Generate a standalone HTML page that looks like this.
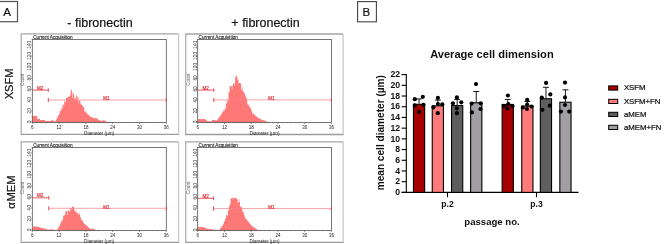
<!DOCTYPE html>
<html><head><meta charset="utf-8"><style>
html,body{margin:0;padding:0;background:#fff;}
body{width:669px;height:244px;overflow:hidden;font-family:"Liberation Sans",sans-serif;}
svg{display:block;}svg{will-change:transform}
</style></head><body>
<svg width="669" height="244" viewBox="0 0 669 244">
<rect width="669" height="244" fill="#fff"/>
<rect x="-2" y="1.5" width="19.5" height="20.2" fill="none" stroke="#555" stroke-width="1.2"/>
<text x="3.3" y="16.3" font-size="11.6" fill="#111" stroke="#111" stroke-width="0.2" font-family="Liberation Sans, sans-serif">A</text>
<text x="100" y="27" text-anchor="middle" font-size="12.5" fill="#111" stroke="#111" stroke-width="0.2" font-family="Liberation Sans, sans-serif">- fibronectin</text>
<text x="265.6" y="27" text-anchor="middle" font-size="12.5" fill="#111" stroke="#111" stroke-width="0.2" font-family="Liberation Sans, sans-serif">+ fibronectin</text>
<text transform="translate(13.2,83.9) rotate(-90)" text-anchor="middle" font-size="11.1" fill="#111" stroke="#111" stroke-width="0.2" font-family="Liberation Sans, sans-serif">XSFM</text>
<text transform="translate(14.5,208.8) rotate(-90)" font-size="11.2" fill="#111" stroke="#111" stroke-width="0.2" font-family="Liberation Sans, sans-serif">α</text>
<text transform="translate(14.5,188.4) rotate(-90)" text-anchor="middle" font-size="11.3" fill="#111" stroke="#111" stroke-width="0.2" font-family="Liberation Sans, sans-serif">MEM</text>
<line x1="20.599999999999998" y1="33.9" x2="178.6" y2="33.9" stroke="#a6a6a6" stroke-width="1.3"/>
<line x1="21.2" y1="33.9" x2="21.2" y2="134.4" stroke="#b0b0b0" stroke-width="1.3"/>
<line x1="20.599999999999998" y1="134.4" x2="179.2" y2="134.4" stroke="#9c9c9c" stroke-width="1.3"/>
<line x1="178.6" y1="33.9" x2="178.6" y2="134.4" stroke="#c8c8c8" stroke-width="1.3"/>
<text x="33.199999999999996" y="38.75" font-size="4.7" fill="#222" stroke="#222" stroke-width="0.12" font-family="Liberation Sans, sans-serif">Current Acquisition</text>
<polygon points="32.30,122.40 32.30,115.93 32.85,115.93 32.85,115.79 33.40,115.79 33.40,116.24 33.95,116.24 33.95,115.87 34.50,115.87 34.50,115.82 35.05,115.82 35.05,116.15 35.60,116.15 35.60,115.81 36.15,115.81 36.15,116.05 36.70,116.05 36.70,115.94 37.25,115.94 37.25,119.18 37.80,119.18 37.80,118.90 38.35,118.90 38.35,118.94 38.90,118.94 38.90,119.12 39.45,119.12 39.45,118.87 40.00,118.87 40.00,120.07 40.55,120.07 40.55,119.93 41.10,119.93 41.10,120.04 41.65,120.04 41.65,120.08 42.20,120.08 42.20,119.94 42.75,119.94 42.75,119.96 43.30,119.96 43.30,120.06 43.85,120.06 43.85,120.10 44.40,120.10 44.40,120.09 44.95,120.09 44.95,120.98 45.50,120.98 45.50,121.01 46.05,121.01 46.05,120.96 46.60,120.96 46.60,121.02 47.15,121.02 47.15,121.03 47.70,121.03 47.70,121.04 48.25,121.04 48.25,120.97 48.80,120.97 48.80,121.00 49.35,121.00 49.35,121.05 49.90,121.05 49.90,121.07 50.45,121.07 50.45,121.01 51.00,121.01 51.00,120.30 51.55,120.30 51.55,120.22 52.10,120.22 52.10,120.21 52.65,120.21 52.65,120.24 53.20,120.24 53.20,120.19 53.75,120.19 53.75,121.50 54.30,121.50 54.30,121.82 54.85,121.82 54.85,121.77 55.40,121.77 55.40,120.70 55.95,120.70 55.95,119.64 56.50,119.64 56.50,118.74 57.05,118.74 57.05,117.72 57.60,117.72 57.60,116.82 58.15,116.82 58.15,115.40 58.70,115.40 58.70,114.74 59.25,114.74 59.25,113.40 59.80,113.40 59.80,110.36 60.35,110.36 60.35,111.43 60.90,111.43 60.90,109.79 61.45,109.79 61.45,108.64 62.00,108.64 62.00,105.28 62.55,105.28 62.55,108.17 63.10,108.17 63.10,104.19 63.65,104.19 63.65,105.44 64.20,105.44 64.20,100.66 64.75,100.66 64.75,102.07 65.30,102.07 65.30,102.29 65.85,102.29 65.85,98.00 66.40,98.00 66.40,98.00 66.95,98.00 66.95,97.89 67.50,97.89 67.50,96.70 68.05,96.70 68.05,96.70 68.60,96.70 68.60,96.70 69.15,96.70 69.15,96.28 69.70,96.28 69.70,96.42 70.25,96.42 70.25,94.27 70.80,94.27 70.80,89.70 71.35,89.70 71.35,89.70 71.90,89.70 71.90,91.97 72.45,91.97 72.45,97.87 73.00,97.87 73.00,93.80 73.55,93.80 73.55,93.80 74.10,93.80 74.10,99.00 74.65,99.00 74.65,98.70 75.20,98.70 75.20,98.28 75.75,98.28 75.75,95.50 76.30,95.50 76.30,95.50 76.85,95.50 76.85,100.15 77.40,100.15 77.40,96.68 77.95,96.68 77.95,97.10 78.50,97.10 78.50,103.53 79.05,103.53 79.05,100.34 79.60,100.34 79.60,100.69 80.15,100.69 80.15,104.11 80.70,104.11 80.70,101.69 81.25,101.69 81.25,104.98 81.80,104.98 81.80,105.04 82.35,105.04 82.35,105.84 82.90,105.84 82.90,107.04 83.45,107.04 83.45,107.19 84.00,107.19 84.00,110.11 84.55,110.11 84.55,112.02 85.10,112.02 85.10,112.20 85.65,112.20 85.65,111.04 86.20,111.04 86.20,113.14 86.75,113.14 86.75,112.95 87.30,112.95 87.30,114.41 87.85,114.41 87.85,114.47 88.40,114.47 88.40,114.89 88.95,114.89 88.95,115.44 89.50,115.44 89.50,116.03 90.05,116.03 90.05,116.63 90.60,116.63 90.60,117.20 91.15,117.20 91.15,117.29 91.70,117.29 91.70,117.33 92.25,117.33 92.25,117.29 92.80,117.29 92.80,117.71 93.35,117.71 93.35,117.77 93.90,117.77 93.90,118.32 94.45,118.32 94.45,118.51 95.00,118.51 95.00,118.37 95.55,118.37 95.55,118.04 96.10,118.04 96.10,118.06 96.65,118.06 96.65,118.51 97.20,118.51 97.20,119.12 97.75,119.12 97.75,119.52 98.30,119.52 98.30,119.85 98.85,119.85 98.85,120.00 99.40,120.00 99.40,120.40 99.95,120.40 99.95,120.50 100.50,120.50 100.50,120.72 101.05,120.72 101.05,120.87 101.60,120.87 101.60,121.02 102.15,121.02 102.15,120.76 102.70,120.76 102.70,120.51 103.25,120.51 103.25,120.36 103.80,120.36 103.80,120.09 104.35,120.09 104.35,120.48 104.90,120.48 104.90,120.85 105.45,120.85 105.45,121.31 106.00,121.31 106.00,121.55 106.55,121.55 106.55,121.63 107.10,121.63 107.10,121.75 107.65,121.75 107.65,121.86 108.20,121.86 108.20,121.93 108.75,121.93 108.75,122.04 109.30,122.04 109.30,122.12 109.85,122.12 109.85,122.40 110.40,122.40 110.00,122.40" fill="#ff7878"/>
<rect x="32.3" y="39.5" width="134.0" height="82.9" fill="none" stroke="#4a4a4a" stroke-width="0.75"/>
<line x1="30.9" y1="122.00" x2="32.3" y2="122.00" stroke="#555" stroke-width="0.6"/>
<line x1="31.499999999999996" y1="116.50" x2="32.3" y2="116.50" stroke="#666" stroke-width="0.5"/>
<text transform="translate(31.4,121.80) rotate(-90)" text-anchor="middle" font-size="4.8" fill="#3a3a3a" font-family="Liberation Sans, sans-serif">0</text>
<line x1="30.9" y1="111.00" x2="32.3" y2="111.00" stroke="#555" stroke-width="0.6"/>
<line x1="31.499999999999996" y1="105.50" x2="32.3" y2="105.50" stroke="#666" stroke-width="0.5"/>
<text transform="translate(31.4,110.80) rotate(-90)" text-anchor="middle" font-size="4.8" fill="#3a3a3a" font-family="Liberation Sans, sans-serif">20</text>
<line x1="30.9" y1="100.00" x2="32.3" y2="100.00" stroke="#555" stroke-width="0.6"/>
<line x1="31.499999999999996" y1="94.50" x2="32.3" y2="94.50" stroke="#666" stroke-width="0.5"/>
<text transform="translate(31.4,99.80) rotate(-90)" text-anchor="middle" font-size="4.8" fill="#3a3a3a" font-family="Liberation Sans, sans-serif">40</text>
<line x1="30.9" y1="89.00" x2="32.3" y2="89.00" stroke="#555" stroke-width="0.6"/>
<line x1="31.499999999999996" y1="83.50" x2="32.3" y2="83.50" stroke="#666" stroke-width="0.5"/>
<text transform="translate(31.4,88.80) rotate(-90)" text-anchor="middle" font-size="4.8" fill="#3a3a3a" font-family="Liberation Sans, sans-serif">60</text>
<line x1="30.9" y1="78.00" x2="32.3" y2="78.00" stroke="#555" stroke-width="0.6"/>
<line x1="31.499999999999996" y1="72.50" x2="32.3" y2="72.50" stroke="#666" stroke-width="0.5"/>
<text transform="translate(31.4,77.80) rotate(-90)" text-anchor="middle" font-size="4.8" fill="#3a3a3a" font-family="Liberation Sans, sans-serif">80</text>
<line x1="30.9" y1="67.00" x2="32.3" y2="67.00" stroke="#555" stroke-width="0.6"/>
<line x1="31.499999999999996" y1="61.50" x2="32.3" y2="61.50" stroke="#666" stroke-width="0.5"/>
<text transform="translate(31.4,66.80) rotate(-90)" text-anchor="middle" font-size="4.8" fill="#3a3a3a" font-family="Liberation Sans, sans-serif">100</text>
<line x1="30.9" y1="56.00" x2="32.3" y2="56.00" stroke="#555" stroke-width="0.6"/>
<line x1="31.499999999999996" y1="50.50" x2="32.3" y2="50.50" stroke="#666" stroke-width="0.5"/>
<text transform="translate(31.4,55.80) rotate(-90)" text-anchor="middle" font-size="4.8" fill="#3a3a3a" font-family="Liberation Sans, sans-serif">120</text>
<line x1="30.9" y1="45.00" x2="32.3" y2="45.00" stroke="#555" stroke-width="0.6"/>
<line x1="31.499999999999996" y1="39.50" x2="32.3" y2="39.50" stroke="#666" stroke-width="0.5"/>
<text transform="translate(31.4,44.80) rotate(-90)" text-anchor="middle" font-size="4.8" fill="#3a3a3a" font-family="Liberation Sans, sans-serif">140</text>
<text transform="translate(24.4,79.8) rotate(-90)" text-anchor="middle" font-size="4.6" fill="#666" font-family="Liberation Sans, sans-serif">Count</text>
<line x1="32.30" y1="122.4" x2="32.30" y2="124.0" stroke="#444" stroke-width="0.6"/>
<text x="32.30" y="129.1" text-anchor="middle" font-size="4.5" fill="#222" font-family="Liberation Sans, sans-serif">6</text>
<line x1="36.77" y1="122.4" x2="36.77" y2="123.30000000000001" stroke="#777" stroke-width="0.5"/>
<line x1="41.23" y1="122.4" x2="41.23" y2="123.30000000000001" stroke="#777" stroke-width="0.5"/>
<line x1="45.70" y1="122.4" x2="45.70" y2="123.30000000000001" stroke="#777" stroke-width="0.5"/>
<line x1="50.17" y1="122.4" x2="50.17" y2="123.30000000000001" stroke="#777" stroke-width="0.5"/>
<line x1="54.63" y1="122.4" x2="54.63" y2="123.30000000000001" stroke="#777" stroke-width="0.5"/>
<line x1="59.10" y1="122.4" x2="59.10" y2="124.0" stroke="#444" stroke-width="0.6"/>
<text x="59.10" y="129.1" text-anchor="middle" font-size="4.5" fill="#222" font-family="Liberation Sans, sans-serif">12</text>
<line x1="63.57" y1="122.4" x2="63.57" y2="123.30000000000001" stroke="#777" stroke-width="0.5"/>
<line x1="68.03" y1="122.4" x2="68.03" y2="123.30000000000001" stroke="#777" stroke-width="0.5"/>
<line x1="72.50" y1="122.4" x2="72.50" y2="123.30000000000001" stroke="#777" stroke-width="0.5"/>
<line x1="76.97" y1="122.4" x2="76.97" y2="123.30000000000001" stroke="#777" stroke-width="0.5"/>
<line x1="81.43" y1="122.4" x2="81.43" y2="123.30000000000001" stroke="#777" stroke-width="0.5"/>
<line x1="85.90" y1="122.4" x2="85.90" y2="124.0" stroke="#444" stroke-width="0.6"/>
<text x="85.90" y="129.1" text-anchor="middle" font-size="4.5" fill="#222" font-family="Liberation Sans, sans-serif">18</text>
<line x1="90.37" y1="122.4" x2="90.37" y2="123.30000000000001" stroke="#777" stroke-width="0.5"/>
<line x1="94.83" y1="122.4" x2="94.83" y2="123.30000000000001" stroke="#777" stroke-width="0.5"/>
<line x1="99.30" y1="122.4" x2="99.30" y2="123.30000000000001" stroke="#777" stroke-width="0.5"/>
<line x1="103.77" y1="122.4" x2="103.77" y2="123.30000000000001" stroke="#777" stroke-width="0.5"/>
<line x1="108.23" y1="122.4" x2="108.23" y2="123.30000000000001" stroke="#777" stroke-width="0.5"/>
<line x1="112.70" y1="122.4" x2="112.70" y2="124.0" stroke="#444" stroke-width="0.6"/>
<text x="112.70" y="129.1" text-anchor="middle" font-size="4.5" fill="#222" font-family="Liberation Sans, sans-serif">24</text>
<line x1="117.17" y1="122.4" x2="117.17" y2="123.30000000000001" stroke="#777" stroke-width="0.5"/>
<line x1="121.63" y1="122.4" x2="121.63" y2="123.30000000000001" stroke="#777" stroke-width="0.5"/>
<line x1="126.10" y1="122.4" x2="126.10" y2="123.30000000000001" stroke="#777" stroke-width="0.5"/>
<line x1="130.57" y1="122.4" x2="130.57" y2="123.30000000000001" stroke="#777" stroke-width="0.5"/>
<line x1="135.03" y1="122.4" x2="135.03" y2="123.30000000000001" stroke="#777" stroke-width="0.5"/>
<line x1="139.50" y1="122.4" x2="139.50" y2="124.0" stroke="#444" stroke-width="0.6"/>
<text x="139.50" y="129.1" text-anchor="middle" font-size="4.5" fill="#222" font-family="Liberation Sans, sans-serif">30</text>
<line x1="143.97" y1="122.4" x2="143.97" y2="123.30000000000001" stroke="#777" stroke-width="0.5"/>
<line x1="148.43" y1="122.4" x2="148.43" y2="123.30000000000001" stroke="#777" stroke-width="0.5"/>
<line x1="152.90" y1="122.4" x2="152.90" y2="123.30000000000001" stroke="#777" stroke-width="0.5"/>
<line x1="157.37" y1="122.4" x2="157.37" y2="123.30000000000001" stroke="#777" stroke-width="0.5"/>
<line x1="161.83" y1="122.4" x2="161.83" y2="123.30000000000001" stroke="#777" stroke-width="0.5"/>
<line x1="166.30" y1="122.4" x2="166.30" y2="124.0" stroke="#444" stroke-width="0.6"/>
<text x="166.30" y="129.1" text-anchor="middle" font-size="4.5" fill="#222" font-family="Liberation Sans, sans-serif">36</text>
<text x="99.1" y="134.70000000000002" text-anchor="middle" font-size="4.7" fill="#222" font-family="Liberation Sans, sans-serif">Diameter (µm)</text>
<line x1="32.3" y1="90.1" x2="48.3" y2="90.1" stroke="#e63a48" stroke-width="0.85"/>
<line x1="48.3" y1="88.3" x2="48.3" y2="91.89999999999999" stroke="#e63a48" stroke-width="0.9"/>
<text x="40.199999999999996" y="89.69999999999999" text-anchor="middle" font-size="4.5" fill="#e0202a" stroke="#e0202a" stroke-width="0.15" font-family="Liberation Sans, sans-serif">M2</text>
<line x1="48.3" y1="100.0" x2="166.3" y2="100.0" stroke="#f4848e" stroke-width="0.75"/>
<line x1="48.3" y1="97.8" x2="48.3" y2="102.2" stroke="#e63a48" stroke-width="0.9"/>
<line x1="166.3" y1="97.8" x2="166.3" y2="102.2" stroke="#e63a48" stroke-width="0.9"/>
<text x="106.5" y="100.2" text-anchor="middle" font-size="4.5" fill="#e0202a" stroke="#e0202a" stroke-width="0.15" font-family="Liberation Sans, sans-serif">M1</text>
<line x1="185.1" y1="34.0" x2="343.1" y2="34.0" stroke="#a6a6a6" stroke-width="1.3"/>
<line x1="185.7" y1="34.0" x2="185.7" y2="134.5" stroke="#b0b0b0" stroke-width="1.3"/>
<line x1="185.1" y1="134.5" x2="343.70000000000005" y2="134.5" stroke="#9c9c9c" stroke-width="1.3"/>
<line x1="343.1" y1="34.0" x2="343.1" y2="134.5" stroke="#c8c8c8" stroke-width="1.3"/>
<text x="198.6" y="38.65" font-size="4.7" fill="#222" stroke="#222" stroke-width="0.12" font-family="Liberation Sans, sans-serif">Current Acquisition</text>
<polygon points="197.70,122.50 197.70,119.03 198.25,119.03 198.25,119.19 198.80,119.19 198.80,118.89 199.35,118.89 199.35,119.12 199.90,119.12 199.90,119.18 200.45,119.18 200.45,118.95 201.00,118.95 201.00,119.20 201.55,119.20 201.55,119.05 202.10,119.05 202.10,119.15 202.65,119.15 202.65,119.19 203.20,119.19 203.20,118.91 203.75,118.91 203.75,118.99 204.30,118.99 204.30,118.93 204.85,118.93 204.85,119.09 205.40,119.09 205.40,119.79 205.95,119.79 205.95,120.23 206.50,120.23 206.50,120.77 207.05,120.77 207.05,120.98 207.60,120.98 207.60,121.09 208.15,121.09 208.15,121.15 208.70,121.15 208.70,121.22 209.25,121.22 209.25,121.21 209.80,121.21 209.80,121.27 210.35,121.27 210.35,121.32 210.90,121.32 210.90,121.43 211.45,121.43 211.45,121.43 212.00,121.43 212.00,119.92 212.55,119.92 212.55,120.07 213.10,120.07 213.10,120.11 213.65,120.11 213.65,119.99 214.20,119.99 214.20,120.10 214.75,120.10 214.75,120.06 215.30,120.06 215.30,120.55 215.85,120.55 215.85,120.87 216.40,120.87 216.40,120.43 216.95,120.43 216.95,119.76 217.50,119.76 217.50,119.31 218.05,119.31 218.05,118.53 218.60,118.53 218.60,117.82 219.15,117.82 219.15,116.83 219.70,116.83 219.70,116.51 220.25,116.51 220.25,115.18 220.80,115.18 220.80,114.75 221.35,114.75 221.35,113.60 221.90,113.60 221.90,112.90 222.45,112.90 222.45,111.39 223.00,111.39 223.00,111.50 223.55,111.50 223.55,109.50 224.10,109.50 224.10,111.03 224.65,111.03 224.65,108.47 225.20,108.47 225.20,108.70 225.75,108.70 225.75,103.25 226.30,103.25 226.30,103.98 226.85,103.98 226.85,99.43 227.40,99.43 227.40,101.65 227.95,101.65 227.95,99.64 228.50,99.64 228.50,91.82 229.05,91.82 229.05,92.50 229.60,92.50 229.60,86.36 230.15,86.36 230.15,86.00 230.70,86.00 230.70,86.00 231.25,86.00 231.25,86.00 231.80,86.00 231.80,89.47 232.35,89.47 232.35,85.74 232.90,85.74 232.90,83.50 233.45,83.50 233.45,83.50 234.00,83.50 234.00,85.79 234.55,85.79 234.55,83.09 235.10,83.09 235.10,77.80 235.65,77.80 235.65,75.50 236.20,75.50 236.20,75.50 236.75,75.50 236.75,76.74 237.30,76.74 237.30,79.99 237.85,79.99 237.85,78.43 238.40,78.43 238.40,83.43 238.95,83.43 238.95,82.66 239.50,82.66 239.50,83.06 240.05,83.06 240.05,83.45 240.60,83.45 240.60,83.33 241.15,83.33 241.15,89.80 241.70,89.80 241.70,90.08 242.25,90.08 242.25,87.42 242.80,87.42 242.80,91.60 243.35,91.60 243.35,91.42 243.90,91.42 243.90,93.82 244.45,93.82 244.45,92.73 245.00,92.73 245.00,95.57 245.55,95.57 245.55,96.55 246.10,96.55 246.10,98.82 246.65,98.82 246.65,98.27 247.20,98.27 247.20,103.56 247.75,103.56 247.75,105.27 248.30,105.27 248.30,104.62 248.85,104.62 248.85,105.78 249.40,105.78 249.40,106.88 249.95,106.88 249.95,107.61 250.50,107.61 250.50,108.47 251.05,108.47 251.05,110.28 251.60,110.28 251.60,111.03 252.15,111.03 252.15,114.01 252.70,114.01 252.70,112.88 253.25,112.88 253.25,113.52 253.80,113.52 253.80,114.17 254.35,114.17 254.35,115.16 254.90,115.16 254.90,115.37 255.45,115.37 255.45,115.98 256.00,115.98 256.00,116.31 256.55,116.31 256.55,116.73 257.10,116.73 257.10,117.51 257.65,117.51 257.65,117.50 258.20,117.50 258.20,117.84 258.75,117.84 258.75,118.38 259.30,118.38 259.30,118.44 259.85,118.44 259.85,118.82 260.40,118.82 260.40,119.10 260.95,119.10 260.95,119.47 261.50,119.47 261.50,119.76 262.05,119.76 262.05,120.02 262.60,120.02 262.60,119.93 263.15,119.93 263.15,120.23 263.70,120.23 263.70,120.26 264.25,120.26 264.25,120.55 264.80,120.55 264.80,120.83 265.35,120.83 265.35,121.15 265.90,121.15 265.90,121.35 266.45,121.35 266.45,121.56 267.00,121.56 267.00,121.75 267.55,121.75 267.55,121.92 268.10,121.92 268.10,122.05 268.65,122.05 268.65,122.17 269.20,122.17 269.20,122.24 269.75,122.24 269.75,122.34 270.30,122.34 270.30,122.43 270.85,122.43 270.85,122.50 271.40,122.50 271.00,122.50" fill="#ff7878"/>
<rect x="197.7" y="39.4" width="133.7" height="83.1" fill="none" stroke="#4a4a4a" stroke-width="0.75"/>
<line x1="196.29999999999998" y1="122.10" x2="197.7" y2="122.10" stroke="#555" stroke-width="0.6"/>
<line x1="196.89999999999998" y1="116.60" x2="197.7" y2="116.60" stroke="#666" stroke-width="0.5"/>
<text transform="translate(196.79999999999998,121.90) rotate(-90)" text-anchor="middle" font-size="4.8" fill="#3a3a3a" font-family="Liberation Sans, sans-serif">0</text>
<line x1="196.29999999999998" y1="111.10" x2="197.7" y2="111.10" stroke="#555" stroke-width="0.6"/>
<line x1="196.89999999999998" y1="105.60" x2="197.7" y2="105.60" stroke="#666" stroke-width="0.5"/>
<text transform="translate(196.79999999999998,110.90) rotate(-90)" text-anchor="middle" font-size="4.8" fill="#3a3a3a" font-family="Liberation Sans, sans-serif">20</text>
<line x1="196.29999999999998" y1="100.10" x2="197.7" y2="100.10" stroke="#555" stroke-width="0.6"/>
<line x1="196.89999999999998" y1="94.60" x2="197.7" y2="94.60" stroke="#666" stroke-width="0.5"/>
<text transform="translate(196.79999999999998,99.90) rotate(-90)" text-anchor="middle" font-size="4.8" fill="#3a3a3a" font-family="Liberation Sans, sans-serif">40</text>
<line x1="196.29999999999998" y1="89.10" x2="197.7" y2="89.10" stroke="#555" stroke-width="0.6"/>
<line x1="196.89999999999998" y1="83.60" x2="197.7" y2="83.60" stroke="#666" stroke-width="0.5"/>
<text transform="translate(196.79999999999998,88.90) rotate(-90)" text-anchor="middle" font-size="4.8" fill="#3a3a3a" font-family="Liberation Sans, sans-serif">60</text>
<line x1="196.29999999999998" y1="78.10" x2="197.7" y2="78.10" stroke="#555" stroke-width="0.6"/>
<line x1="196.89999999999998" y1="72.60" x2="197.7" y2="72.60" stroke="#666" stroke-width="0.5"/>
<text transform="translate(196.79999999999998,77.90) rotate(-90)" text-anchor="middle" font-size="4.8" fill="#3a3a3a" font-family="Liberation Sans, sans-serif">80</text>
<line x1="196.29999999999998" y1="67.10" x2="197.7" y2="67.10" stroke="#555" stroke-width="0.6"/>
<line x1="196.89999999999998" y1="61.60" x2="197.7" y2="61.60" stroke="#666" stroke-width="0.5"/>
<text transform="translate(196.79999999999998,66.90) rotate(-90)" text-anchor="middle" font-size="4.8" fill="#3a3a3a" font-family="Liberation Sans, sans-serif">100</text>
<line x1="196.29999999999998" y1="56.10" x2="197.7" y2="56.10" stroke="#555" stroke-width="0.6"/>
<line x1="196.89999999999998" y1="50.60" x2="197.7" y2="50.60" stroke="#666" stroke-width="0.5"/>
<text transform="translate(196.79999999999998,55.90) rotate(-90)" text-anchor="middle" font-size="4.8" fill="#3a3a3a" font-family="Liberation Sans, sans-serif">120</text>
<line x1="196.29999999999998" y1="45.10" x2="197.7" y2="45.10" stroke="#555" stroke-width="0.6"/>
<line x1="196.89999999999998" y1="39.60" x2="197.7" y2="39.60" stroke="#666" stroke-width="0.5"/>
<text transform="translate(196.79999999999998,44.90) rotate(-90)" text-anchor="middle" font-size="4.8" fill="#3a3a3a" font-family="Liberation Sans, sans-serif">140</text>
<text transform="translate(189.79999999999998,79.69999999999999) rotate(-90)" text-anchor="middle" font-size="4.6" fill="#666" font-family="Liberation Sans, sans-serif">Count</text>
<line x1="197.70" y1="122.5" x2="197.70" y2="124.1" stroke="#444" stroke-width="0.6"/>
<text x="197.70" y="129.2" text-anchor="middle" font-size="4.5" fill="#222" font-family="Liberation Sans, sans-serif">6</text>
<line x1="202.16" y1="122.5" x2="202.16" y2="123.4" stroke="#777" stroke-width="0.5"/>
<line x1="206.61" y1="122.5" x2="206.61" y2="123.4" stroke="#777" stroke-width="0.5"/>
<line x1="211.07" y1="122.5" x2="211.07" y2="123.4" stroke="#777" stroke-width="0.5"/>
<line x1="215.53" y1="122.5" x2="215.53" y2="123.4" stroke="#777" stroke-width="0.5"/>
<line x1="219.98" y1="122.5" x2="219.98" y2="123.4" stroke="#777" stroke-width="0.5"/>
<line x1="224.44" y1="122.5" x2="224.44" y2="124.1" stroke="#444" stroke-width="0.6"/>
<text x="224.44" y="129.2" text-anchor="middle" font-size="4.5" fill="#222" font-family="Liberation Sans, sans-serif">12</text>
<line x1="228.90" y1="122.5" x2="228.90" y2="123.4" stroke="#777" stroke-width="0.5"/>
<line x1="233.35" y1="122.5" x2="233.35" y2="123.4" stroke="#777" stroke-width="0.5"/>
<line x1="237.81" y1="122.5" x2="237.81" y2="123.4" stroke="#777" stroke-width="0.5"/>
<line x1="242.27" y1="122.5" x2="242.27" y2="123.4" stroke="#777" stroke-width="0.5"/>
<line x1="246.72" y1="122.5" x2="246.72" y2="123.4" stroke="#777" stroke-width="0.5"/>
<line x1="251.18" y1="122.5" x2="251.18" y2="124.1" stroke="#444" stroke-width="0.6"/>
<text x="251.18" y="129.2" text-anchor="middle" font-size="4.5" fill="#222" font-family="Liberation Sans, sans-serif">18</text>
<line x1="255.64" y1="122.5" x2="255.64" y2="123.4" stroke="#777" stroke-width="0.5"/>
<line x1="260.09" y1="122.5" x2="260.09" y2="123.4" stroke="#777" stroke-width="0.5"/>
<line x1="264.55" y1="122.5" x2="264.55" y2="123.4" stroke="#777" stroke-width="0.5"/>
<line x1="269.01" y1="122.5" x2="269.01" y2="123.4" stroke="#777" stroke-width="0.5"/>
<line x1="273.46" y1="122.5" x2="273.46" y2="123.4" stroke="#777" stroke-width="0.5"/>
<line x1="277.92" y1="122.5" x2="277.92" y2="124.1" stroke="#444" stroke-width="0.6"/>
<text x="277.92" y="129.2" text-anchor="middle" font-size="4.5" fill="#222" font-family="Liberation Sans, sans-serif">24</text>
<line x1="282.38" y1="122.5" x2="282.38" y2="123.4" stroke="#777" stroke-width="0.5"/>
<line x1="286.83" y1="122.5" x2="286.83" y2="123.4" stroke="#777" stroke-width="0.5"/>
<line x1="291.29" y1="122.5" x2="291.29" y2="123.4" stroke="#777" stroke-width="0.5"/>
<line x1="295.75" y1="122.5" x2="295.75" y2="123.4" stroke="#777" stroke-width="0.5"/>
<line x1="300.20" y1="122.5" x2="300.20" y2="123.4" stroke="#777" stroke-width="0.5"/>
<line x1="304.66" y1="122.5" x2="304.66" y2="124.1" stroke="#444" stroke-width="0.6"/>
<text x="304.66" y="129.2" text-anchor="middle" font-size="4.5" fill="#222" font-family="Liberation Sans, sans-serif">30</text>
<line x1="309.12" y1="122.5" x2="309.12" y2="123.4" stroke="#777" stroke-width="0.5"/>
<line x1="313.57" y1="122.5" x2="313.57" y2="123.4" stroke="#777" stroke-width="0.5"/>
<line x1="318.03" y1="122.5" x2="318.03" y2="123.4" stroke="#777" stroke-width="0.5"/>
<line x1="322.49" y1="122.5" x2="322.49" y2="123.4" stroke="#777" stroke-width="0.5"/>
<line x1="326.94" y1="122.5" x2="326.94" y2="123.4" stroke="#777" stroke-width="0.5"/>
<line x1="331.40" y1="122.5" x2="331.40" y2="124.1" stroke="#444" stroke-width="0.6"/>
<text x="331.40" y="129.2" text-anchor="middle" font-size="4.5" fill="#222" font-family="Liberation Sans, sans-serif">36</text>
<text x="264.5" y="134.8" text-anchor="middle" font-size="4.7" fill="#222" font-family="Liberation Sans, sans-serif">Diameter (µm)</text>
<line x1="197.7" y1="90.1" x2="213.8" y2="90.1" stroke="#e63a48" stroke-width="0.85"/>
<line x1="213.8" y1="88.3" x2="213.8" y2="91.89999999999999" stroke="#e63a48" stroke-width="0.9"/>
<text x="205.6" y="89.69999999999999" text-anchor="middle" font-size="4.5" fill="#e0202a" stroke="#e0202a" stroke-width="0.15" font-family="Liberation Sans, sans-serif">M2</text>
<line x1="213.8" y1="99.9" x2="331.4" y2="99.9" stroke="#f4848e" stroke-width="0.75"/>
<line x1="213.8" y1="97.7" x2="213.8" y2="102.10000000000001" stroke="#e63a48" stroke-width="0.9"/>
<line x1="331.4" y1="97.7" x2="331.4" y2="102.10000000000001" stroke="#e63a48" stroke-width="0.9"/>
<text x="271.5" y="100.10000000000001" text-anchor="middle" font-size="4.5" fill="#e0202a" stroke="#e0202a" stroke-width="0.15" font-family="Liberation Sans, sans-serif">M1</text>
<line x1="20.599999999999998" y1="141.8" x2="178.6" y2="141.8" stroke="#a6a6a6" stroke-width="1.3"/>
<line x1="21.2" y1="141.8" x2="21.2" y2="242.3" stroke="#b0b0b0" stroke-width="1.3"/>
<line x1="20.599999999999998" y1="242.3" x2="179.2" y2="242.3" stroke="#9c9c9c" stroke-width="1.3"/>
<line x1="178.6" y1="141.8" x2="178.6" y2="242.3" stroke="#c8c8c8" stroke-width="1.3"/>
<text x="33.199999999999996" y="146.85" font-size="4.7" fill="#222" stroke="#222" stroke-width="0.12" font-family="Liberation Sans, sans-serif">Current Acquisition</text>
<polygon points="32.90,230.40 32.90,226.56 33.45,226.56 33.45,226.48 34.00,226.48 34.00,226.54 34.55,226.54 34.55,226.35 35.10,226.35 35.10,226.44 35.65,226.44 35.65,226.57 36.20,226.57 36.20,226.39 36.75,226.39 36.75,226.39 37.30,226.39 37.30,226.64 37.85,226.64 37.85,226.82 38.40,226.82 38.40,226.99 38.95,226.99 38.95,227.14 39.50,227.14 39.50,227.37 40.05,227.37 40.05,227.44 40.60,227.44 40.60,227.68 41.15,227.68 41.15,227.90 41.70,227.90 41.70,227.95 42.25,227.95 42.25,228.16 42.80,228.16 42.80,228.20 43.35,228.20 43.35,228.29 43.90,228.29 43.90,228.45 44.45,228.45 44.45,228.42 45.00,228.42 45.00,228.61 45.55,228.61 45.55,228.89 46.10,228.89 46.10,229.25 46.65,229.25 46.65,229.50 47.20,229.50 47.20,229.50 47.75,229.50 47.75,229.50 48.30,229.50 48.30,229.42 48.85,229.42 48.85,229.38 49.40,229.38 49.40,229.40 49.95,229.40 49.95,229.40 50.50,229.40 50.50,229.33 51.05,229.33 51.05,229.29 51.60,229.29 51.60,229.28 52.15,229.28 52.15,229.40 52.70,229.40 52.70,229.49 53.25,229.49 53.25,229.65 53.80,229.65 53.80,229.79 54.35,229.79 54.35,229.90 54.90,229.90 54.90,230.02 55.45,230.02 55.45,230.14 56.00,230.14 56.00,230.26 56.55,230.26 56.55,230.38 57.10,230.38 57.10,229.61 57.65,229.61 57.65,228.60 58.20,228.60 58.20,227.54 58.75,227.54 58.75,226.78 59.30,226.78 59.30,225.86 59.85,225.86 59.85,224.39 60.40,224.39 60.40,223.05 60.95,223.05 60.95,222.21 61.50,222.21 61.50,220.36 62.05,220.36 62.05,220.76 62.60,220.76 62.60,219.35 63.15,219.35 63.15,215.67 63.70,215.67 63.70,215.21 64.25,215.21 64.25,215.27 64.80,215.27 64.80,214.89 65.35,214.89 65.35,210.90 65.90,210.90 65.90,211.20 66.45,211.20 66.45,211.20 67.00,211.20 67.00,214.90 67.55,214.90 67.55,210.81 68.10,210.81 68.10,209.78 68.65,209.78 68.65,210.86 69.20,210.86 69.20,211.75 69.75,211.75 69.75,211.66 70.30,211.66 70.30,208.00 70.85,208.00 70.85,208.00 71.40,208.00 71.40,209.26 71.95,209.26 71.95,206.33 72.50,206.33 72.50,206.80 73.05,206.80 73.05,206.80 73.60,206.80 73.60,207.28 74.15,207.28 74.15,210.34 74.70,210.34 74.70,211.44 75.25,211.44 75.25,211.61 75.80,211.61 75.80,210.55 76.35,210.55 76.35,212.60 76.90,212.60 76.90,214.02 77.45,214.02 77.45,212.71 78.00,212.71 78.00,214.70 78.55,214.70 78.55,212.61 79.10,212.61 79.10,213.50 79.65,213.50 79.65,215.10 80.20,215.10 80.20,217.03 80.75,217.03 80.75,218.74 81.30,218.74 81.30,220.23 81.85,220.23 81.85,219.92 82.40,219.92 82.40,221.04 82.95,221.04 82.95,222.37 83.50,222.37 83.50,222.80 84.05,222.80 84.05,223.86 84.60,223.86 84.60,224.10 85.15,224.10 85.15,224.50 85.70,224.50 85.70,225.05 86.25,225.05 86.25,225.66 86.80,225.66 86.80,225.65 87.35,225.65 87.35,226.52 87.90,226.52 87.90,227.15 88.45,227.15 88.45,227.56 89.00,227.56 89.00,228.14 89.55,228.14 89.55,228.49 90.10,228.49 90.10,228.76 90.65,228.76 90.65,229.11 91.20,229.11 91.20,229.09 91.75,229.09 91.75,228.90 92.30,228.90 92.30,228.59 92.85,228.59 92.85,228.41 93.40,228.41 93.40,228.38 93.95,228.38 93.95,228.97 94.50,228.97 94.50,229.60 95.05,229.60 95.05,229.85 95.60,229.85 95.60,229.89 96.15,229.89 96.15,229.98 96.70,229.98 96.70,230.04 97.25,230.04 97.25,230.09 97.80,230.09 97.80,230.17 98.35,230.17 98.35,230.24 98.90,230.24 98.90,230.30 99.45,230.30 99.45,230.37 100.00,230.37 100.00,230.40 100.55,230.40 100.00,230.40" fill="#ff7878"/>
<rect x="32.3" y="147.6" width="134.0" height="82.80000000000001" fill="none" stroke="#4a4a4a" stroke-width="0.75"/>
<line x1="30.9" y1="230.00" x2="32.3" y2="230.00" stroke="#555" stroke-width="0.6"/>
<line x1="31.499999999999996" y1="224.50" x2="32.3" y2="224.50" stroke="#666" stroke-width="0.5"/>
<text transform="translate(31.4,229.80) rotate(-90)" text-anchor="middle" font-size="4.8" fill="#3a3a3a" font-family="Liberation Sans, sans-serif">0</text>
<line x1="30.9" y1="219.00" x2="32.3" y2="219.00" stroke="#555" stroke-width="0.6"/>
<line x1="31.499999999999996" y1="213.50" x2="32.3" y2="213.50" stroke="#666" stroke-width="0.5"/>
<text transform="translate(31.4,218.80) rotate(-90)" text-anchor="middle" font-size="4.8" fill="#3a3a3a" font-family="Liberation Sans, sans-serif">20</text>
<line x1="30.9" y1="208.00" x2="32.3" y2="208.00" stroke="#555" stroke-width="0.6"/>
<line x1="31.499999999999996" y1="202.50" x2="32.3" y2="202.50" stroke="#666" stroke-width="0.5"/>
<text transform="translate(31.4,207.80) rotate(-90)" text-anchor="middle" font-size="4.8" fill="#3a3a3a" font-family="Liberation Sans, sans-serif">40</text>
<line x1="30.9" y1="197.00" x2="32.3" y2="197.00" stroke="#555" stroke-width="0.6"/>
<line x1="31.499999999999996" y1="191.50" x2="32.3" y2="191.50" stroke="#666" stroke-width="0.5"/>
<text transform="translate(31.4,196.80) rotate(-90)" text-anchor="middle" font-size="4.8" fill="#3a3a3a" font-family="Liberation Sans, sans-serif">60</text>
<line x1="30.9" y1="186.00" x2="32.3" y2="186.00" stroke="#555" stroke-width="0.6"/>
<line x1="31.499999999999996" y1="180.50" x2="32.3" y2="180.50" stroke="#666" stroke-width="0.5"/>
<text transform="translate(31.4,185.80) rotate(-90)" text-anchor="middle" font-size="4.8" fill="#3a3a3a" font-family="Liberation Sans, sans-serif">80</text>
<line x1="30.9" y1="175.00" x2="32.3" y2="175.00" stroke="#555" stroke-width="0.6"/>
<line x1="31.499999999999996" y1="169.50" x2="32.3" y2="169.50" stroke="#666" stroke-width="0.5"/>
<text transform="translate(31.4,174.80) rotate(-90)" text-anchor="middle" font-size="4.8" fill="#3a3a3a" font-family="Liberation Sans, sans-serif">100</text>
<line x1="30.9" y1="164.00" x2="32.3" y2="164.00" stroke="#555" stroke-width="0.6"/>
<line x1="31.499999999999996" y1="158.50" x2="32.3" y2="158.50" stroke="#666" stroke-width="0.5"/>
<text transform="translate(31.4,163.80) rotate(-90)" text-anchor="middle" font-size="4.8" fill="#3a3a3a" font-family="Liberation Sans, sans-serif">120</text>
<line x1="30.9" y1="153.00" x2="32.3" y2="153.00" stroke="#555" stroke-width="0.6"/>
<line x1="31.499999999999996" y1="147.50" x2="32.3" y2="147.50" stroke="#666" stroke-width="0.5"/>
<text transform="translate(31.4,152.80) rotate(-90)" text-anchor="middle" font-size="4.8" fill="#3a3a3a" font-family="Liberation Sans, sans-serif">140</text>
<text transform="translate(24.4,187.89999999999998) rotate(-90)" text-anchor="middle" font-size="4.6" fill="#666" font-family="Liberation Sans, sans-serif">Count</text>
<line x1="32.30" y1="230.4" x2="32.30" y2="232.0" stroke="#444" stroke-width="0.6"/>
<text x="32.30" y="237.1" text-anchor="middle" font-size="4.5" fill="#222" font-family="Liberation Sans, sans-serif">6</text>
<line x1="36.77" y1="230.4" x2="36.77" y2="231.3" stroke="#777" stroke-width="0.5"/>
<line x1="41.23" y1="230.4" x2="41.23" y2="231.3" stroke="#777" stroke-width="0.5"/>
<line x1="45.70" y1="230.4" x2="45.70" y2="231.3" stroke="#777" stroke-width="0.5"/>
<line x1="50.17" y1="230.4" x2="50.17" y2="231.3" stroke="#777" stroke-width="0.5"/>
<line x1="54.63" y1="230.4" x2="54.63" y2="231.3" stroke="#777" stroke-width="0.5"/>
<line x1="59.10" y1="230.4" x2="59.10" y2="232.0" stroke="#444" stroke-width="0.6"/>
<text x="59.10" y="237.1" text-anchor="middle" font-size="4.5" fill="#222" font-family="Liberation Sans, sans-serif">12</text>
<line x1="63.57" y1="230.4" x2="63.57" y2="231.3" stroke="#777" stroke-width="0.5"/>
<line x1="68.03" y1="230.4" x2="68.03" y2="231.3" stroke="#777" stroke-width="0.5"/>
<line x1="72.50" y1="230.4" x2="72.50" y2="231.3" stroke="#777" stroke-width="0.5"/>
<line x1="76.97" y1="230.4" x2="76.97" y2="231.3" stroke="#777" stroke-width="0.5"/>
<line x1="81.43" y1="230.4" x2="81.43" y2="231.3" stroke="#777" stroke-width="0.5"/>
<line x1="85.90" y1="230.4" x2="85.90" y2="232.0" stroke="#444" stroke-width="0.6"/>
<text x="85.90" y="237.1" text-anchor="middle" font-size="4.5" fill="#222" font-family="Liberation Sans, sans-serif">18</text>
<line x1="90.37" y1="230.4" x2="90.37" y2="231.3" stroke="#777" stroke-width="0.5"/>
<line x1="94.83" y1="230.4" x2="94.83" y2="231.3" stroke="#777" stroke-width="0.5"/>
<line x1="99.30" y1="230.4" x2="99.30" y2="231.3" stroke="#777" stroke-width="0.5"/>
<line x1="103.77" y1="230.4" x2="103.77" y2="231.3" stroke="#777" stroke-width="0.5"/>
<line x1="108.23" y1="230.4" x2="108.23" y2="231.3" stroke="#777" stroke-width="0.5"/>
<line x1="112.70" y1="230.4" x2="112.70" y2="232.0" stroke="#444" stroke-width="0.6"/>
<text x="112.70" y="237.1" text-anchor="middle" font-size="4.5" fill="#222" font-family="Liberation Sans, sans-serif">24</text>
<line x1="117.17" y1="230.4" x2="117.17" y2="231.3" stroke="#777" stroke-width="0.5"/>
<line x1="121.63" y1="230.4" x2="121.63" y2="231.3" stroke="#777" stroke-width="0.5"/>
<line x1="126.10" y1="230.4" x2="126.10" y2="231.3" stroke="#777" stroke-width="0.5"/>
<line x1="130.57" y1="230.4" x2="130.57" y2="231.3" stroke="#777" stroke-width="0.5"/>
<line x1="135.03" y1="230.4" x2="135.03" y2="231.3" stroke="#777" stroke-width="0.5"/>
<line x1="139.50" y1="230.4" x2="139.50" y2="232.0" stroke="#444" stroke-width="0.6"/>
<text x="139.50" y="237.1" text-anchor="middle" font-size="4.5" fill="#222" font-family="Liberation Sans, sans-serif">30</text>
<line x1="143.97" y1="230.4" x2="143.97" y2="231.3" stroke="#777" stroke-width="0.5"/>
<line x1="148.43" y1="230.4" x2="148.43" y2="231.3" stroke="#777" stroke-width="0.5"/>
<line x1="152.90" y1="230.4" x2="152.90" y2="231.3" stroke="#777" stroke-width="0.5"/>
<line x1="157.37" y1="230.4" x2="157.37" y2="231.3" stroke="#777" stroke-width="0.5"/>
<line x1="161.83" y1="230.4" x2="161.83" y2="231.3" stroke="#777" stroke-width="0.5"/>
<line x1="166.30" y1="230.4" x2="166.30" y2="232.0" stroke="#444" stroke-width="0.6"/>
<text x="166.30" y="237.1" text-anchor="middle" font-size="4.5" fill="#222" font-family="Liberation Sans, sans-serif">36</text>
<text x="99.1" y="242.70000000000002" text-anchor="middle" font-size="4.7" fill="#222" font-family="Liberation Sans, sans-serif">Diameter (µm)</text>
<line x1="32.3" y1="197.8" x2="48.8" y2="197.8" stroke="#e63a48" stroke-width="0.85"/>
<line x1="48.8" y1="196.0" x2="48.8" y2="199.60000000000002" stroke="#e63a48" stroke-width="0.9"/>
<text x="40.199999999999996" y="197.4" text-anchor="middle" font-size="4.5" fill="#e0202a" stroke="#e0202a" stroke-width="0.15" font-family="Liberation Sans, sans-serif">M2</text>
<line x1="48.8" y1="208.3" x2="166.3" y2="208.3" stroke="#f4848e" stroke-width="0.75"/>
<line x1="48.8" y1="206.10000000000002" x2="48.8" y2="210.5" stroke="#e63a48" stroke-width="0.9"/>
<line x1="166.3" y1="206.10000000000002" x2="166.3" y2="210.5" stroke="#e63a48" stroke-width="0.9"/>
<text x="106.5" y="208.5" text-anchor="middle" font-size="4.5" fill="#e0202a" stroke="#e0202a" stroke-width="0.15" font-family="Liberation Sans, sans-serif">M1</text>
<line x1="185.1" y1="141.8" x2="343.1" y2="141.8" stroke="#a6a6a6" stroke-width="1.3"/>
<line x1="185.7" y1="141.8" x2="185.7" y2="242.3" stroke="#b0b0b0" stroke-width="1.3"/>
<line x1="185.1" y1="242.3" x2="343.70000000000005" y2="242.3" stroke="#9c9c9c" stroke-width="1.3"/>
<line x1="343.1" y1="141.8" x2="343.1" y2="242.3" stroke="#c8c8c8" stroke-width="1.3"/>
<text x="198.6" y="146.85" font-size="4.7" fill="#222" stroke="#222" stroke-width="0.12" font-family="Liberation Sans, sans-serif">Current Acquisition</text>
<polygon points="197.60,230.40 197.60,227.14 198.15,227.14 198.15,226.96 198.70,226.96 198.70,227.17 199.25,227.17 199.25,227.19 199.80,227.19 199.80,226.92 200.35,226.92 200.35,226.88 200.90,226.88 200.90,227.07 201.45,227.07 201.45,227.14 202.00,227.14 202.00,226.90 202.55,226.90 202.55,226.86 203.10,226.86 203.10,227.18 203.65,227.18 203.65,227.52 204.20,227.52 204.20,227.68 204.75,227.68 204.75,227.98 205.30,227.98 205.30,228.31 205.85,228.31 205.85,228.53 206.40,228.53 206.40,228.55 206.95,228.55 206.95,228.69 207.50,228.69 207.50,228.67 208.05,228.67 208.05,228.77 208.60,228.77 208.60,228.94 209.15,228.94 209.15,228.89 209.70,228.89 209.70,229.03 210.25,229.03 210.25,229.05 210.80,229.05 210.80,229.19 211.35,229.19 211.35,229.25 211.90,229.25 211.90,229.28 212.45,229.28 212.45,229.33 213.00,229.33 213.00,229.46 213.55,229.46 213.55,229.44 214.10,229.44 214.10,229.59 214.65,229.59 214.65,229.67 215.20,229.67 215.20,229.78 215.75,229.78 215.75,229.88 216.30,229.88 216.30,229.98 216.85,229.98 216.85,230.07 217.40,230.07 217.40,230.19 217.95,230.19 217.95,230.30 218.50,230.30 218.50,230.40 219.05,230.40 219.05,229.69 219.60,229.69 219.60,228.98 220.15,228.98 220.15,228.28 220.70,228.28 220.70,227.55 221.25,227.55 221.25,226.87 221.80,226.87 221.80,226.25 222.35,226.25 222.35,225.43 222.90,225.43 222.90,224.40 223.45,224.40 223.45,223.28 224.00,223.28 224.00,221.56 224.55,221.56 224.55,221.02 225.10,221.02 225.10,218.69 225.65,218.69 225.65,217.52 226.20,217.52 226.20,214.83 226.75,214.83 226.75,215.24 227.30,215.24 227.30,215.55 227.85,215.55 227.85,210.95 228.40,210.95 228.40,210.27 228.95,210.27 228.95,206.11 229.50,206.11 229.50,204.93 230.05,204.93 230.05,203.57 230.60,203.57 230.60,198.97 231.15,198.97 231.15,197.90 231.70,197.90 231.70,197.90 232.25,197.90 232.25,197.26 232.80,197.26 232.80,199.27 233.35,199.27 233.35,198.00 233.90,198.00 233.90,198.00 234.45,198.00 234.45,198.00 235.00,198.00 235.00,198.28 235.55,198.28 235.55,197.68 236.10,197.68 236.10,198.50 236.65,198.50 236.65,198.50 237.20,198.50 237.20,199.75 237.75,199.75 237.75,203.08 238.30,203.08 238.30,202.51 238.85,202.51 238.85,199.20 239.40,199.20 239.40,201.84 239.95,201.84 239.95,205.91 240.50,205.91 240.50,207.28 241.05,207.28 241.05,207.45 241.60,207.45 241.60,206.69 242.15,206.69 242.15,211.17 242.70,211.17 242.70,210.76 243.25,210.76 243.25,213.21 243.80,213.21 243.80,213.64 244.35,213.64 244.35,216.50 244.90,216.50 244.90,217.48 245.45,217.48 245.45,218.68 246.00,218.68 246.00,219.22 246.55,219.22 246.55,219.66 247.10,219.66 247.10,220.83 247.65,220.83 247.65,220.73 248.20,220.73 248.20,221.81 248.75,221.81 248.75,222.47 249.30,222.47 249.30,222.88 249.85,222.88 249.85,224.07 250.40,224.07 250.40,224.56 250.95,224.56 250.95,225.32 251.50,225.32 251.50,225.71 252.05,225.71 252.05,226.18 252.60,226.18 252.60,226.73 253.15,226.73 253.15,227.08 253.70,227.08 253.70,227.57 254.25,227.57 254.25,227.78 254.80,227.78 254.80,228.25 255.35,228.25 255.35,228.58 255.90,228.58 255.90,228.99 256.45,228.99 256.45,229.35 257.00,229.35 257.00,229.58 257.55,229.58 257.55,229.69 258.10,229.69 258.10,229.83 258.65,229.83 258.65,229.93 259.20,229.93 259.20,230.07 259.75,230.07 259.75,230.19 260.30,230.19 260.30,230.31 260.85,230.31 260.85,230.40 261.40,230.40 261.00,230.40" fill="#ff7878"/>
<rect x="197.7" y="147.6" width="133.7" height="82.80000000000001" fill="none" stroke="#4a4a4a" stroke-width="0.75"/>
<line x1="196.29999999999998" y1="230.00" x2="197.7" y2="230.00" stroke="#555" stroke-width="0.6"/>
<line x1="196.89999999999998" y1="224.50" x2="197.7" y2="224.50" stroke="#666" stroke-width="0.5"/>
<text transform="translate(196.79999999999998,229.80) rotate(-90)" text-anchor="middle" font-size="4.8" fill="#3a3a3a" font-family="Liberation Sans, sans-serif">0</text>
<line x1="196.29999999999998" y1="219.00" x2="197.7" y2="219.00" stroke="#555" stroke-width="0.6"/>
<line x1="196.89999999999998" y1="213.50" x2="197.7" y2="213.50" stroke="#666" stroke-width="0.5"/>
<text transform="translate(196.79999999999998,218.80) rotate(-90)" text-anchor="middle" font-size="4.8" fill="#3a3a3a" font-family="Liberation Sans, sans-serif">20</text>
<line x1="196.29999999999998" y1="208.00" x2="197.7" y2="208.00" stroke="#555" stroke-width="0.6"/>
<line x1="196.89999999999998" y1="202.50" x2="197.7" y2="202.50" stroke="#666" stroke-width="0.5"/>
<text transform="translate(196.79999999999998,207.80) rotate(-90)" text-anchor="middle" font-size="4.8" fill="#3a3a3a" font-family="Liberation Sans, sans-serif">40</text>
<line x1="196.29999999999998" y1="197.00" x2="197.7" y2="197.00" stroke="#555" stroke-width="0.6"/>
<line x1="196.89999999999998" y1="191.50" x2="197.7" y2="191.50" stroke="#666" stroke-width="0.5"/>
<text transform="translate(196.79999999999998,196.80) rotate(-90)" text-anchor="middle" font-size="4.8" fill="#3a3a3a" font-family="Liberation Sans, sans-serif">60</text>
<line x1="196.29999999999998" y1="186.00" x2="197.7" y2="186.00" stroke="#555" stroke-width="0.6"/>
<line x1="196.89999999999998" y1="180.50" x2="197.7" y2="180.50" stroke="#666" stroke-width="0.5"/>
<text transform="translate(196.79999999999998,185.80) rotate(-90)" text-anchor="middle" font-size="4.8" fill="#3a3a3a" font-family="Liberation Sans, sans-serif">80</text>
<line x1="196.29999999999998" y1="175.00" x2="197.7" y2="175.00" stroke="#555" stroke-width="0.6"/>
<line x1="196.89999999999998" y1="169.50" x2="197.7" y2="169.50" stroke="#666" stroke-width="0.5"/>
<text transform="translate(196.79999999999998,174.80) rotate(-90)" text-anchor="middle" font-size="4.8" fill="#3a3a3a" font-family="Liberation Sans, sans-serif">100</text>
<line x1="196.29999999999998" y1="164.00" x2="197.7" y2="164.00" stroke="#555" stroke-width="0.6"/>
<line x1="196.89999999999998" y1="158.50" x2="197.7" y2="158.50" stroke="#666" stroke-width="0.5"/>
<text transform="translate(196.79999999999998,163.80) rotate(-90)" text-anchor="middle" font-size="4.8" fill="#3a3a3a" font-family="Liberation Sans, sans-serif">120</text>
<line x1="196.29999999999998" y1="153.00" x2="197.7" y2="153.00" stroke="#555" stroke-width="0.6"/>
<line x1="196.89999999999998" y1="147.50" x2="197.7" y2="147.50" stroke="#666" stroke-width="0.5"/>
<text transform="translate(196.79999999999998,152.80) rotate(-90)" text-anchor="middle" font-size="4.8" fill="#3a3a3a" font-family="Liberation Sans, sans-serif">140</text>
<text transform="translate(189.79999999999998,187.89999999999998) rotate(-90)" text-anchor="middle" font-size="4.6" fill="#666" font-family="Liberation Sans, sans-serif">Count</text>
<line x1="197.70" y1="230.4" x2="197.70" y2="232.0" stroke="#444" stroke-width="0.6"/>
<text x="197.70" y="237.1" text-anchor="middle" font-size="4.5" fill="#222" font-family="Liberation Sans, sans-serif">6</text>
<line x1="202.16" y1="230.4" x2="202.16" y2="231.3" stroke="#777" stroke-width="0.5"/>
<line x1="206.61" y1="230.4" x2="206.61" y2="231.3" stroke="#777" stroke-width="0.5"/>
<line x1="211.07" y1="230.4" x2="211.07" y2="231.3" stroke="#777" stroke-width="0.5"/>
<line x1="215.53" y1="230.4" x2="215.53" y2="231.3" stroke="#777" stroke-width="0.5"/>
<line x1="219.98" y1="230.4" x2="219.98" y2="231.3" stroke="#777" stroke-width="0.5"/>
<line x1="224.44" y1="230.4" x2="224.44" y2="232.0" stroke="#444" stroke-width="0.6"/>
<text x="224.44" y="237.1" text-anchor="middle" font-size="4.5" fill="#222" font-family="Liberation Sans, sans-serif">12</text>
<line x1="228.90" y1="230.4" x2="228.90" y2="231.3" stroke="#777" stroke-width="0.5"/>
<line x1="233.35" y1="230.4" x2="233.35" y2="231.3" stroke="#777" stroke-width="0.5"/>
<line x1="237.81" y1="230.4" x2="237.81" y2="231.3" stroke="#777" stroke-width="0.5"/>
<line x1="242.27" y1="230.4" x2="242.27" y2="231.3" stroke="#777" stroke-width="0.5"/>
<line x1="246.72" y1="230.4" x2="246.72" y2="231.3" stroke="#777" stroke-width="0.5"/>
<line x1="251.18" y1="230.4" x2="251.18" y2="232.0" stroke="#444" stroke-width="0.6"/>
<text x="251.18" y="237.1" text-anchor="middle" font-size="4.5" fill="#222" font-family="Liberation Sans, sans-serif">18</text>
<line x1="255.64" y1="230.4" x2="255.64" y2="231.3" stroke="#777" stroke-width="0.5"/>
<line x1="260.09" y1="230.4" x2="260.09" y2="231.3" stroke="#777" stroke-width="0.5"/>
<line x1="264.55" y1="230.4" x2="264.55" y2="231.3" stroke="#777" stroke-width="0.5"/>
<line x1="269.01" y1="230.4" x2="269.01" y2="231.3" stroke="#777" stroke-width="0.5"/>
<line x1="273.46" y1="230.4" x2="273.46" y2="231.3" stroke="#777" stroke-width="0.5"/>
<line x1="277.92" y1="230.4" x2="277.92" y2="232.0" stroke="#444" stroke-width="0.6"/>
<text x="277.92" y="237.1" text-anchor="middle" font-size="4.5" fill="#222" font-family="Liberation Sans, sans-serif">24</text>
<line x1="282.38" y1="230.4" x2="282.38" y2="231.3" stroke="#777" stroke-width="0.5"/>
<line x1="286.83" y1="230.4" x2="286.83" y2="231.3" stroke="#777" stroke-width="0.5"/>
<line x1="291.29" y1="230.4" x2="291.29" y2="231.3" stroke="#777" stroke-width="0.5"/>
<line x1="295.75" y1="230.4" x2="295.75" y2="231.3" stroke="#777" stroke-width="0.5"/>
<line x1="300.20" y1="230.4" x2="300.20" y2="231.3" stroke="#777" stroke-width="0.5"/>
<line x1="304.66" y1="230.4" x2="304.66" y2="232.0" stroke="#444" stroke-width="0.6"/>
<text x="304.66" y="237.1" text-anchor="middle" font-size="4.5" fill="#222" font-family="Liberation Sans, sans-serif">30</text>
<line x1="309.12" y1="230.4" x2="309.12" y2="231.3" stroke="#777" stroke-width="0.5"/>
<line x1="313.57" y1="230.4" x2="313.57" y2="231.3" stroke="#777" stroke-width="0.5"/>
<line x1="318.03" y1="230.4" x2="318.03" y2="231.3" stroke="#777" stroke-width="0.5"/>
<line x1="322.49" y1="230.4" x2="322.49" y2="231.3" stroke="#777" stroke-width="0.5"/>
<line x1="326.94" y1="230.4" x2="326.94" y2="231.3" stroke="#777" stroke-width="0.5"/>
<line x1="331.40" y1="230.4" x2="331.40" y2="232.0" stroke="#444" stroke-width="0.6"/>
<text x="331.40" y="237.1" text-anchor="middle" font-size="4.5" fill="#222" font-family="Liberation Sans, sans-serif">36</text>
<text x="264.5" y="242.70000000000002" text-anchor="middle" font-size="4.7" fill="#222" font-family="Liberation Sans, sans-serif">Diameter (µm)</text>
<line x1="197.7" y1="198.3" x2="213.5" y2="198.3" stroke="#e63a48" stroke-width="0.85"/>
<line x1="213.5" y1="196.5" x2="213.5" y2="200.10000000000002" stroke="#e63a48" stroke-width="0.9"/>
<text x="205.6" y="197.9" text-anchor="middle" font-size="4.5" fill="#e0202a" stroke="#e0202a" stroke-width="0.15" font-family="Liberation Sans, sans-serif">M2</text>
<line x1="213.5" y1="208.6" x2="331.4" y2="208.6" stroke="#f4848e" stroke-width="0.75"/>
<line x1="213.5" y1="206.4" x2="213.5" y2="210.79999999999998" stroke="#e63a48" stroke-width="0.9"/>
<line x1="331.4" y1="206.4" x2="331.4" y2="210.79999999999998" stroke="#e63a48" stroke-width="0.9"/>
<text x="271.5" y="208.79999999999998" text-anchor="middle" font-size="4.5" fill="#e0202a" stroke="#e0202a" stroke-width="0.15" font-family="Liberation Sans, sans-serif">M1</text>
<rect x="357.6" y="1.6" width="18.8" height="20.2" fill="none" stroke="#444" stroke-width="1.1"/>
<text x="362.5" y="16" font-size="11.5" fill="#111" stroke="#111" stroke-width="0.2" font-family="Liberation Sans, sans-serif">B</text>
<text x="491.9" y="57.75" text-anchor="middle" font-size="11.1" font-weight="bold" fill="#111" font-family="Liberation Sans, sans-serif">Average cell dimension</text>
<line x1="406.3" y1="74.05" x2="406.3" y2="192.4" stroke="#000" stroke-width="1.1"/>
<line x1="401.6" y1="192.4" x2="578.5" y2="192.4" stroke="#000" stroke-width="1.1"/>
<line x1="401.6" y1="192.40" x2="406.3" y2="192.40" stroke="#000" stroke-width="1.1"/>
<text x="400.1" y="195.15" text-anchor="end" font-size="8.7" font-weight="bold" fill="#111" font-family="Liberation Sans, sans-serif">0</text>
<line x1="401.6" y1="181.69" x2="406.3" y2="181.69" stroke="#000" stroke-width="1.1"/>
<text x="400.1" y="184.44" text-anchor="end" font-size="8.7" font-weight="bold" fill="#111" font-family="Liberation Sans, sans-serif">2</text>
<line x1="401.6" y1="170.98" x2="406.3" y2="170.98" stroke="#000" stroke-width="1.1"/>
<text x="400.1" y="173.73" text-anchor="end" font-size="8.7" font-weight="bold" fill="#111" font-family="Liberation Sans, sans-serif">4</text>
<line x1="401.6" y1="160.27" x2="406.3" y2="160.27" stroke="#000" stroke-width="1.1"/>
<text x="400.1" y="163.02" text-anchor="end" font-size="8.7" font-weight="bold" fill="#111" font-family="Liberation Sans, sans-serif">6</text>
<line x1="401.6" y1="149.56" x2="406.3" y2="149.56" stroke="#000" stroke-width="1.1"/>
<text x="400.1" y="152.31" text-anchor="end" font-size="8.7" font-weight="bold" fill="#111" font-family="Liberation Sans, sans-serif">8</text>
<line x1="401.6" y1="138.85" x2="406.3" y2="138.85" stroke="#000" stroke-width="1.1"/>
<text x="400.1" y="141.60" text-anchor="end" font-size="8.7" font-weight="bold" fill="#111" font-family="Liberation Sans, sans-serif">10</text>
<line x1="401.6" y1="128.15" x2="406.3" y2="128.15" stroke="#000" stroke-width="1.1"/>
<text x="400.1" y="130.90" text-anchor="end" font-size="8.7" font-weight="bold" fill="#111" font-family="Liberation Sans, sans-serif">12</text>
<line x1="401.6" y1="117.44" x2="406.3" y2="117.44" stroke="#000" stroke-width="1.1"/>
<text x="400.1" y="120.19" text-anchor="end" font-size="8.7" font-weight="bold" fill="#111" font-family="Liberation Sans, sans-serif">14</text>
<line x1="401.6" y1="106.73" x2="406.3" y2="106.73" stroke="#000" stroke-width="1.1"/>
<text x="400.1" y="109.48" text-anchor="end" font-size="8.7" font-weight="bold" fill="#111" font-family="Liberation Sans, sans-serif">16</text>
<line x1="401.6" y1="96.02" x2="406.3" y2="96.02" stroke="#000" stroke-width="1.1"/>
<text x="400.1" y="98.77" text-anchor="end" font-size="8.7" font-weight="bold" fill="#111" font-family="Liberation Sans, sans-serif">18</text>
<line x1="401.6" y1="85.31" x2="406.3" y2="85.31" stroke="#000" stroke-width="1.1"/>
<text x="400.1" y="88.06" text-anchor="end" font-size="8.7" font-weight="bold" fill="#111" font-family="Liberation Sans, sans-serif">20</text>
<line x1="401.6" y1="74.60" x2="406.3" y2="74.60" stroke="#000" stroke-width="1.1"/>
<text x="400.1" y="77.35" text-anchor="end" font-size="8.7" font-weight="bold" fill="#111" font-family="Liberation Sans, sans-serif">22</text>
<text transform="translate(384.0,132.7) rotate(-90)" text-anchor="middle" font-size="10.1" font-weight="bold" fill="#111" font-family="Liberation Sans, sans-serif">mean cell diameter (µm)</text>
<line x1="447.5" y1="192.4" x2="447.5" y2="197.2" stroke="#000" stroke-width="1.1"/>
<text x="447.5" y="206.9" text-anchor="middle" font-size="8.6" font-weight="bold" fill="#111" font-family="Liberation Sans, sans-serif">p.2</text>
<line x1="536.5" y1="192.4" x2="536.5" y2="197.2" stroke="#000" stroke-width="1.1"/>
<text x="536.5" y="206.9" text-anchor="middle" font-size="8.6" font-weight="bold" fill="#111" font-family="Liberation Sans, sans-serif">p.3</text>
<text x="492" y="225.2" text-anchor="middle" font-size="9.6" font-weight="bold" fill="#111" font-family="Liberation Sans, sans-serif">passage no.</text>
<rect x="413.45" y="104.35" width="11.200000000000001" height="88.05000000000001" fill="#a60000" stroke="#000" stroke-width="1.1"/>
<line x1="419.05" y1="103.8" x2="419.05" y2="98.9" stroke="#000" stroke-width="0.9"/>
<line x1="416.05" y1="98.9" x2="422.05" y2="98.9" stroke="#000" stroke-width="0.9"/>
<circle cx="414.8" cy="99.2" r="2.1" fill="#000"/>
<circle cx="422.8" cy="96.8" r="2.1" fill="#000"/>
<circle cx="414.8" cy="105.4" r="2.1" fill="#000"/>
<circle cx="423.4" cy="104.8" r="2.1" fill="#000"/>
<circle cx="419.1" cy="111.9" r="2.1" fill="#000"/>
<rect x="432.25" y="105.85" width="11.200000000000001" height="86.55000000000001" fill="#ff7b7b" stroke="#000" stroke-width="1.1"/>
<line x1="437.85" y1="105.3" x2="437.85" y2="100.1" stroke="#000" stroke-width="0.9"/>
<line x1="434.85" y1="100.1" x2="440.85" y2="100.1" stroke="#000" stroke-width="0.9"/>
<circle cx="437.9" cy="97.9" r="2.1" fill="#000"/>
<circle cx="437.9" cy="104" r="2.1" fill="#000"/>
<circle cx="442.3" cy="104.3" r="2.1" fill="#000"/>
<circle cx="433.4" cy="107.3" r="2.1" fill="#000"/>
<circle cx="437.8" cy="113.2" r="2.1" fill="#000"/>
<rect x="451.55" y="105.55" width="11.200000000000001" height="86.85000000000001" fill="#5e5e5e" stroke="#000" stroke-width="1.1"/>
<line x1="457.15" y1="105.0" x2="457.15" y2="99.4" stroke="#000" stroke-width="0.9"/>
<line x1="454.15" y1="99.4" x2="460.15" y2="99.4" stroke="#000" stroke-width="0.9"/>
<circle cx="456.9" cy="97.4" r="2.1" fill="#000"/>
<circle cx="452.9" cy="103.3" r="2.1" fill="#000"/>
<circle cx="461.3" cy="102.3" r="2.1" fill="#000"/>
<circle cx="456.9" cy="108.3" r="2.1" fill="#000"/>
<circle cx="456.9" cy="113.2" r="2.1" fill="#000"/>
<rect x="470.65000000000003" y="102.75" width="11.200000000000001" height="89.65" fill="#a19fa4" stroke="#000" stroke-width="1.1"/>
<line x1="476.25" y1="102.2" x2="476.25" y2="91.5" stroke="#000" stroke-width="0.9"/>
<line x1="473.25" y1="91.5" x2="479.25" y2="91.5" stroke="#000" stroke-width="0.9"/>
<circle cx="476.0" cy="84.1" r="2.1" fill="#000"/>
<circle cx="471.6" cy="103.6" r="2.1" fill="#000"/>
<circle cx="480.7" cy="103.3" r="2.1" fill="#000"/>
<circle cx="480.5" cy="109" r="2.1" fill="#000"/>
<circle cx="471.9" cy="112.4" r="2.1" fill="#000"/>
<rect x="502.15000000000003" y="104.45" width="11.200000000000001" height="87.95" fill="#a60000" stroke="#000" stroke-width="1.1"/>
<line x1="507.75" y1="103.9" x2="507.75" y2="99.4" stroke="#000" stroke-width="0.9"/>
<line x1="504.75" y1="99.4" x2="510.75" y2="99.4" stroke="#000" stroke-width="0.9"/>
<circle cx="507.9" cy="95.5" r="2.1" fill="#000"/>
<circle cx="503.8" cy="106" r="2.1" fill="#000"/>
<circle cx="508.3" cy="104" r="2.1" fill="#000"/>
<circle cx="512.5" cy="106" r="2.1" fill="#000"/>
<circle cx="507.5" cy="108.5" r="2.1" fill="#000"/>
<rect x="521.75" y="106.05" width="11.200000000000001" height="86.35000000000001" fill="#ff7b7b" stroke="#000" stroke-width="1.1"/>
<line x1="527.35" y1="105.5" x2="527.35" y2="101.5" stroke="#000" stroke-width="0.9"/>
<line x1="524.35" y1="101.5" x2="530.35" y2="101.5" stroke="#000" stroke-width="0.9"/>
<circle cx="527.2" cy="99.9" r="2.1" fill="#000"/>
<circle cx="522.8" cy="107.5" r="2.1" fill="#000"/>
<circle cx="527.2" cy="104.6" r="2.1" fill="#000"/>
<circle cx="531.6" cy="106.5" r="2.1" fill="#000"/>
<circle cx="527" cy="109" r="2.1" fill="#000"/>
<rect x="540.3499999999999" y="98.75" width="11.200000000000001" height="93.65" fill="#5e5e5e" stroke="#000" stroke-width="1.1"/>
<line x1="545.95" y1="98.2" x2="545.95" y2="87.3" stroke="#000" stroke-width="0.9"/>
<line x1="542.95" y1="87.3" x2="548.95" y2="87.3" stroke="#000" stroke-width="0.9"/>
<circle cx="546.1" cy="82.9" r="2.1" fill="#000"/>
<circle cx="550.3" cy="94.4" r="2.1" fill="#000"/>
<circle cx="541.8" cy="97.5" r="2.1" fill="#000"/>
<circle cx="549.8" cy="105.7" r="2.1" fill="#000"/>
<circle cx="542.4" cy="109.8" r="2.1" fill="#000"/>
<rect x="559.8499999999999" y="102.25" width="11.200000000000001" height="90.15" fill="#a19fa4" stroke="#000" stroke-width="1.1"/>
<line x1="565.45" y1="101.7" x2="565.45" y2="89.8" stroke="#000" stroke-width="0.9"/>
<line x1="562.45" y1="89.8" x2="568.45" y2="89.8" stroke="#000" stroke-width="0.9"/>
<circle cx="565.0" cy="82.6" r="2.1" fill="#000"/>
<circle cx="565.0" cy="97.4" r="2.1" fill="#000"/>
<circle cx="565.0" cy="105" r="2.1" fill="#000"/>
<circle cx="560.9" cy="111.6" r="2.1" fill="#000"/>
<circle cx="569.2" cy="111.6" r="2.1" fill="#000"/>
<rect x="608.7" y="85.90" width="9" height="4.2" fill="#a60000" stroke="#000" stroke-width="1"/>
<text x="623.9" y="90.20" font-size="7.8" fill="#111" stroke="#111" stroke-width="0.22" font-family="Liberation Sans, sans-serif">XSFM</text>
<rect x="608.7" y="99.30" width="9" height="4.2" fill="#ff7b7b" stroke="#000" stroke-width="1"/>
<text x="623.9" y="103.60" font-size="7.8" fill="#111" stroke="#111" stroke-width="0.22" font-family="Liberation Sans, sans-serif">XSFM+FN</text>
<rect x="608.7" y="112.30" width="9" height="4.2" fill="#5e5e5e" stroke="#000" stroke-width="1"/>
<text x="623.9" y="116.60" font-size="7.8" fill="#111" stroke="#111" stroke-width="0.22" font-family="Liberation Sans, sans-serif">aMEM</text>
<rect x="608.7" y="125.30" width="9" height="4.2" fill="#a19fa4" stroke="#000" stroke-width="1"/>
<text x="623.9" y="129.60" font-size="7.8" fill="#111" stroke="#111" stroke-width="0.22" font-family="Liberation Sans, sans-serif">aMEM+FN</text>
</svg>
</body></html>
